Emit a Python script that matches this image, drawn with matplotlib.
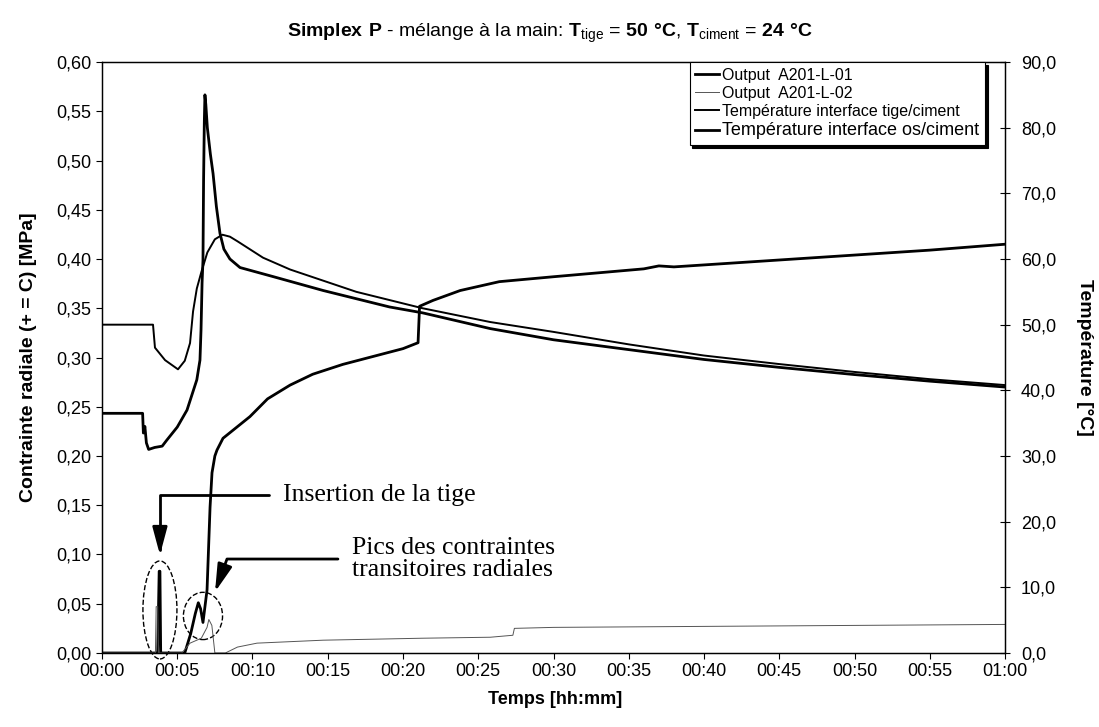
import matplotlib
matplotlib.use("Agg")
import matplotlib.pyplot as plt
from matplotlib.patches import Ellipse

plt.rcParams['font.family'] = ['Liberation Sans', 'DejaVu Sans']
plt.rcParams['mathtext.fontset'] = 'custom'
plt.rcParams['mathtext.rm'] = 'Liberation Sans'
plt.rcParams['mathtext.bf'] = 'Liberation Sans:bold'

# temps en minutes
t_l01 = [0, 3.7, 3.8, 3.85, 3.9, 4.0, 5.5, 5.9, 6.2, 6.4, 6.55, 6.71, 6.98, 7.18, 7.31, 7.5,
         7.64, 8.04, 9.83, 11.0, 12.5, 14.0, 16.0, 18.0, 20.0, 21.0, 21.1, 22, 23.8, 26.4, 30, 33,
         36, 37, 38, 40, 45, 50, 55, 60]
s_l01 = [0, 0, 0.083, 0.083, 0, 0, 0, 0.02, 0.04, 0.051, 0.045, 0.031, 0.064, 0.148, 0.183, 0.200,
         0.206, 0.218, 0.240, 0.258, 0.272, 0.283, 0.293, 0.301, 0.309, 0.315, 0.352, 0.358, 0.368,
         0.377, 0.382, 0.386, 0.390, 0.393, 0.392, 0.394, 0.399, 0.404, 0.409, 0.415]

t_l02 = [0, 3.55, 3.6, 3.7, 3.75, 5.3, 5.85, 6.6, 6.98, 7.1, 7.3, 7.5, 8.2, 9.0, 10.3, 14.7,
         21.3, 25.8, 27.3, 27.4, 30, 40, 50, 60]
s_l02 = [0, 0, 0.047, 0.047, 0, 0, 0.010, 0.015, 0.026, 0.034, 0.028, 0, 0, 0.006, 0.010, 0.013,
         0.015, 0.016, 0.018, 0.025, 0.026, 0.027, 0.028, 0.029]

t_tige = [0, 3.39, 3.52, 4.19, 5.05, 5.5, 5.85, 6.05, 6.3, 6.6, 7.0, 7.5, 8.0, 8.5, 9.0, 10.7,
          12.5, 16.9, 21.3, 25.8, 30, 35, 40, 45, 50, 55, 60]
T_tige = [50, 50, 46.5, 44.6, 43.2, 44.5, 47.2, 52.0, 55.5, 58.0, 61.0, 63.0, 63.7, 63.4, 62.7, 60.2,
          58.4, 55.0, 52.5, 50.4, 48.9, 47.0, 45.3, 44.0, 42.8, 41.7, 40.8]

t_os = [0, 2.7, 2.75, 2.85, 2.95, 3.1, 3.5, 4.0, 4.3, 5.0, 5.65, 6.3, 6.51, 6.58, 6.65, 6.71,
        6.75, 6.8, 6.84, 6.9, 7.0, 7.2, 7.38, 7.6, 7.84, 8.1, 8.5, 9.17, 11.4, 14.7, 19.1, 21.3,
        25.8, 30, 35, 40, 45, 50, 55, 60]
T_os = [36.5, 36.5, 33.5, 34.5, 32.0, 31.0, 31.3, 31.5, 32.4, 34.4, 37.0, 41.6, 44.6, 49.2, 56.4, 59.8,
        72.0, 81.0, 85.0, 83.5, 80.0, 76.0, 73.0, 68.0, 63.9, 61.5, 60.0, 58.7, 57.3, 55.2, 52.7, 51.8,
        49.4, 47.7, 46.2, 44.7, 43.5, 42.4, 41.4, 40.5]

x_ticks = list(range(0, 61, 5))
x_labels = ['00:00', '00:05', '00:10', '00:15', '00:20', '00:25', '00:30', '00:35', '00:40',
            '00:45', '00:50', '00:55', '01:00']
y1_ticks = [0, 0.05, 0.10, 0.15, 0.20, 0.25, 0.30, 0.35, 0.40, 0.45, 0.50, 0.55, 0.60]
y1_labels = ['0,00', '0,05', '0,10', '0,15', '0,20', '0,25', '0,30', '0,35', '0,40', '0,45',
             '0,50', '0,55', '0,60']
y2_ticks = [0, 10, 20, 30, 40, 50, 60, 70, 80, 90]
y2_labels = ['0,0', '10,0', '20,0', '30,0', '40,0', '50,0', '60,0', '70,0', '80,0', '90,0']

fig = plt.figure(figsize=(10.99, 7.27), dpi=100)
ax = fig.add_axes([0.0928, 0.1018, 0.8217, 0.8129])
ax2 = ax.twinx()

l1, = ax.plot(t_l01, s_l01, color='black', lw=2.0, label='Output  A201-L-01')
l2, = ax.plot(t_l02, s_l02, color='#555555', lw=0.7, label='Output  A201-L-02')
l3, = ax2.plot(t_tige, T_tige, color='black', lw=1.4, label='Température interface tige/ciment')
l4, = ax2.plot(t_os, T_os, color='black', lw=2.0, label='Température interface os/ciment')

ax.set_xlim(0, 60)
ax.set_ylim(0, 0.60)
ax2.set_ylim(0, 90)
ax.set_xticks(x_ticks)
ax.set_xticklabels(x_labels)
ax.set_yticks(y1_ticks)
ax.set_yticklabels(y1_labels)
ax2.set_yticks(y2_ticks)
ax2.set_yticklabels(y2_labels)
ax.tick_params(axis='both', labelsize=13, direction='out', length=4, width=0.8)
ax2.tick_params(axis='y', labelsize=13, direction='inout', length=7, width=0.8, pad=8)
for a in (ax, ax2):
    for sp in a.spines.values():
        sp.set_linewidth(0.9)

fig.text(555 / 1099, 1 - 700 / 727, 'Temps [hh:mm]', fontsize=13, fontweight='bold',
         ha='center', va='center')
fig.text(29 / 1099, 1 - 357 / 727, 'Contrainte radiale (+ = C) [MPa]', fontsize=14,
         fontweight='bold', rotation=90, ha='center', va='center')
fig.text(1085 / 1099, 1 - 357 / 727, 'Température [°C]', fontsize=14, fontweight='bold',
         rotation=-90, ha='center', va='center')

fig.text(0.5, 1 - 33 / 727,
         r'$\mathbf{Simplex\ P}$ - mélange à la main: $\mathbf{T}_{\mathrm{tige}}$ = '
         r'$\mathbf{50\ °C}$, $\mathbf{T}_{\mathrm{ciment}}$ = $\mathbf{24\ °C}$',
         ha='center', va='center', fontsize=14)

leg = ax2.legend(handles=[l1, l2, l3, l4], loc='upper right', bbox_to_anchor=(0.978, 1.0),
                 fontsize=11.5, frameon=True, fancybox=False, edgecolor='black',
                 shadow={'color': 'black', 'alpha': 1}, handlelength=1.5, handletextpad=0.2,
                 labelspacing=0.2, borderpad=0.35, borderaxespad=0)
leg.get_frame().set_linewidth(0.8)
leg.get_texts()[3].set_fontsize(13)

# annotations
ax.annotate('Insertion de la tige', xy=(3.85, 0.0995), xytext=(12.03, 0.160),
            fontsize=18.5, family='Liberation Serif', ha='left', va='center',
            arrowprops=dict(arrowstyle='-|>,head_length=1.2,head_width=0.32', color='black', lw=2,
                            connectionstyle='angle,angleA=0,angleB=90,rad=0',
                            mutation_scale=14, shrinkA=8, shrinkB=0))
ax.annotate('Pics des contraintes\ntransitoires radiales', xy=(7.51, 0.062), xytext=(16.6, 0.0954),
            fontsize=18.5, family='Liberation Serif', ha='left', va='center', linespacing=1.05,
            arrowprops=dict(arrowstyle='-|>,head_length=1.2,head_width=0.32', color='black', lw=2,
                            connectionstyle='angle,angleA=0,angleB=70,rad=0',
                            mutation_scale=14, shrinkA=8, shrinkB=0))
ax.add_patch(Ellipse((3.85, 0.0437), 2.26, 0.0995, fill=False, ls='--', lw=1.0,
                     color='black', clip_on=False))
ax.add_patch(Ellipse((6.71, 0.0376), 2.6, 0.048, fill=False, ls='--', lw=1.0,
                     color='black', clip_on=False))

fig.savefig('out.png', dpi=100)
